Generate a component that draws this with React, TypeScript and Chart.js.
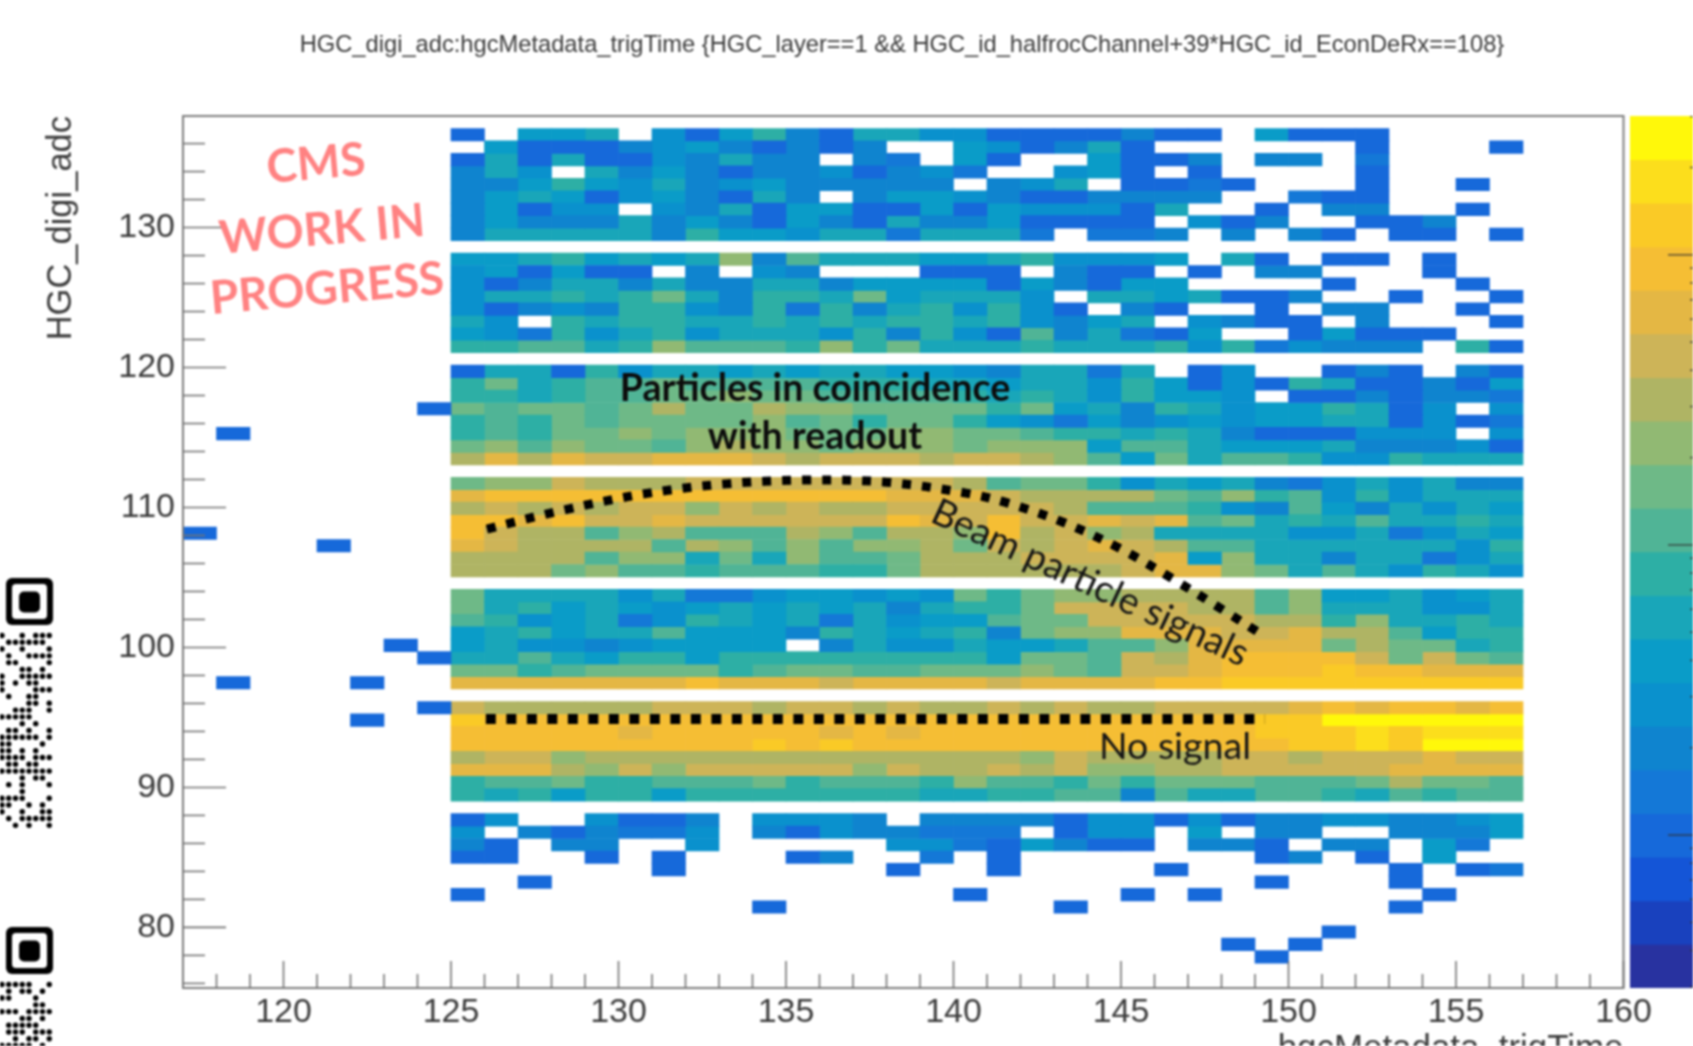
import React, { useEffect, useRef } from "react";
import { Chart, registerables } from "chart.js";

Chart.register(...registerables);

const chartTitle = "HGC_digi_adc:hgcMetadata_trigTime {HGC_layer==1 && HGC_id_halfrocChannel+39*HGC_id_EconDeRx==108}";
const xAxisTitle = "hgcMetadata_trigTime";
const yAxisTitle = "HGC_digi_adc";

const xMajorTicks = [120, 125, 130, 135, 140, 145, 150, 155, 160];
const yMajorTicks = [80, 90, 100, 110, 120, 130];
const xMinorTicks = [118, 119, 121, 122, 123, 124, 126, 127, 128, 129, 131, 132, 133, 134, 136, 137, 138, 139, 141, 142, 143, 144, 146, 147, 148, 149, 151, 152, 153, 154, 156, 157, 158, 159];
const yMinorTicks = [76, 78, 82, 84, 86, 88, 92, 94, 96, 98, 102, 104, 106, 108, 112, 114, 116, 118, 122, 124, 126, 128, 132, 134, 136];

// Colour levels (0 = empty bin, 1..20 = palette band), columns 125..156, rows listed top to bottom
const rows60to68 = [
  [4,0,8,8,9,0,7,4,8,10,6,4,9,9,7,7, 4,4,4,4,6,4,4,0,8,4,4,4,0,0,0,0],
  [0,8,4,4,4,6,7,8,6,4,6,4,6,0,0,8, 7,4,6,9,4,0,0,0,0,0,0,4,0,0,0,4],
  [4,9,4,9,4,4,7,6,9,6,6,0,6,5,0,8, 4,0,0,8,4,4,6,0,6,6,0,5,0,0,0,0],
  [6,9,7,0,9,6,8,6,4,6,6,7,4,6,7,5, 0,0,7,8,4,0,4,0,0,0,0,4,0,0,0,0],
  [6,6,8,10,8,7,9,6,7,8,6,6,6,6,6,0, 6,7,9,0,4,4,5,4,0,0,0,4,0,0,4,0],
  [6,8,9,8,4,7,8,6,4,9,6,0,6,8,8,7, 6,4,4,6,6,6,6,0,0,5,4,4,0,0,0,0],
  [6,8,4,7,7,0,7,6,9,4,8,8,4,4,8,4, 8,7,7,7,4,9,0,0,4,0,6,6,0,0,4,0],
  [6,8,6,6,6,9,6,8,6,4,8,6,4,9,6,6, 8,4,4,4,4,0,7,4,6,0,0,4,4,6,0,0],
  [6,9,9,9,9,9,6,10,8,8,7,9,9,5,9,9, 9,5,0,5,5,6,0,6,0,6,4,0,4,4,0,4],
];
const rows51to58 = [
  [8,8,9,10,8,9,8,9,13,6,11,9,9,9,8,8, 9,10,7,7,7,8,0,9,4,0,4,4,0,4,0,0],
  [7,8,4,8,4,4,0,6,0,7,6,0,0,0,4,4, 4,0,6,4,4,0,4,0,6,6,0,0,0,4,0,0],
  [7,4,6,9,9,6,9,6,6,9,9,6,8,8,8,8, 4,8,6,4,8,8,0,0,0,0,4,0,0,0,4,0],
  [7,9,9,10,9,10,12,9,6,10,10,9,12,8,9,9, 9,7,0,9,9,8,9,4,4,6,0,0,4,0,0,4],
  [7,4,6,7,6,10,10,7,6,10,5,10,6,9,10,7, 10,7,4,0,6,4,0,0,4,0,6,6,0,0,4,0],
  [9,7,0,10,9,10,10,9,9,10,9,10,9,10,10,9, 10,7,6,8,9,0,7,6,4,4,0,6,0,0,0,4],
  [8,7,5,10,7,9,10,7,9,9,9,7,10,6,10,7, 4,11,6,9,5,4,8,0,0,4,8,4,4,4,0,0],
  [10,10,11,11,9,10,13,11,11,11,10,13,10,12,9,9, 9,10,9,9,9,10,7,10,5,7,6,6,6,0,10,4],
];
const rows42to49 = [
  [4,9,9,4,10,7,9,9,8,9,8,9,9,8,8,7, 6,9,9,5,9,0,4,7,0,0,4,6,4,0,6,4],
  [10,12,9,10,11,11,12,11,11,11,11,10,10,10,9,9, 8,9,9,7,10,8,4,7,4,10,9,4,4,6,4,8],
  [10,10,9,10,11,11,12,12,13,12,12,11,11,11,11,10, 9,10,9,7,10,8,8,7,0,4,4,6,4,6,6,5],
  [12,11,12,12,11,12,14,12,12,14,13,13,12,12,12,12, 10,12,8,9,6,10,9,7,8,8,10,9,4,7,0,7],
  [10,11,10,12,11,12,12,12,12,13,11,12,10,12,12,10, 8,7,5,8,6,7,8,7,8,8,9,9,4,7,4,5],
  [10,11,10,12,12,13,12,13,13,13,12,12,12,13,13,12, 12,11,10,10,9,10,9,6,4,4,4,7,7,7,0,7],
  [12,13,11,13,12,12,11,13,14,13,13,12,13,13,13,12, 13,13,13,8,11,11,9,8,8,8,9,6,6,6,7,4],
  [14,16,14,16,15,15,16,16,16,15,14,15,15,15,14,15, 15,14,13,11,8,12,9,11,11,10,7,7,10,9,9,9],
];
const rows33to40 = [
  [12,13,13,15,14,14,14,15,15,15,15,15,15,15,15,14, 11,12,12,10,7,9,8,9,6,5,7,9,7,9,6,6],
  [16,17,17,17,17,17,17,17,17,17,17,17,17,16,16,16, 15,14,14,14,14,12,11,13,10,11,7,10,7,9,9,9],
  [14,15,14,15,14,15,15,13,15,14,15,14,14,15,15,15, 15,15,14,11,11,11,10,7,6,11,8,6,9,7,9,8],
  [17,17,16,17,15,15,16,15,15,15,15,15,15,17,16,15, 17,15,15,16,15,16,11,12,9,10,9,11,9,9,10,9],
  [17,15,14,14,11,13,14,11,11,11,14,13,11,14,14,13, 17,14,15,13,14,9,9,9,9,7,7,9,5,7,9,8],
  [16,15,14,14,14,14,11,14,13,11,13,11,13,13,14,12, 15,14,15,16,15,14,11,11,9,9,9,9,9,9,7,10],
  [14,14,14,14,11,13,13,9,12,9,13,11,11,12,14,14, 14,15,15,15,15,16,8,13,9,9,6,9,9,5,7,9],
  [14,14,14,12,13,11,11,10,11,11,11,10,10,12,14,14, 14,14,14,14,15,16,16,13,12,9,11,9,7,10,9,7],
];
const rows24to31 = [
  [12,9,9,9,9,7,9,5,5,7,8,8,7,8,7,12, 10,12,13,13,14,14,14,14,11,13,8,8,9,7,8,9],
  [12,9,10,8,9,8,7,8,9,8,9,8,9,6,9,10, 10,12,15,15,15,15,14,14,11,13,9,9,9,7,7,9],
  [11,10,7,8,9,5,7,10,9,8,9,5,9,7,8,8, 11,12,12,15,15,15,15,15,14,14,10,13,9,9,10,9],
  [8,9,10,8,9,9,11,8,8,8,6,10,9,8,9,10, 6,12,13,13,16,16,16,15,15,16,14,14,11,8,10,10],
  [8,9,7,7,6,7,8,8,8,8,0,6,9,7,7,9, 8,8,9,11,11,13,16,16,16,16,12,14,12,12,9,10],
  [9,9,11,9,8,10,10,8,10,10,10,10,10,10,10,10, 8,12,12,11,15,14,16,17,17,17,17,15,12,15,12,11],
  [12,12,10,11,12,12,12,12,10,11,12,12,11,11,12,12, 12,13,12,11,15,15,16,17,17,17,18,17,17,16,16,16],
  [16,16,16,16,16,16,16,17,16,16,16,15,16,16,16,16, 15,16,16,16,16,17,17,18,18,18,18,18,18,18,18,18],
];
const rows15to22 = [
  [15,14,14,14,14,14,15,15,15,14,15,15,14,15,14,14, 15,14,15,14,14,15,15,15,15,16,17,16,17,17,16,17],
  [18,17,17,17,17,17,17,17,17,17,17,17,17,17,17,17, 17,17,17,17,17,17,17,17,18,18,20,20,20,20,20,20],
  [17,17,17,17,17,16,17,17,17,17,17,16,17,16,17,17, 17,17,17,17,17,17,17,17,18,18,18,19,18,19,19,19],
  [17,17,17,17,17,17,17,17,17,18,17,18,17,17,17,17, 17,17,17,17,17,17,17,17,17,18,18,19,18,20,20,20],
  [14,15,15,13,14,14,14,14,14,14,14,14,14,14,14,14, 14,13,15,14,14,14,14,15,15,14,15,15,15,16,15,15],
  [16,16,16,14,13,15,13,15,15,15,15,15,13,15,14,14, 15,14,15,13,13,14,14,15,15,15,15,15,16,16,16,16],
  [10,11,11,12,10,10,11,11,11,12,10,11,11,11,10,13, 11,11,10,12,10,12,12,12,11,11,11,12,14,12,12,11],
  [10,9,10,8,10,10,8,10,10,10,10,10,10,10,9,9, 10,10,11,11,6,11,9,9,11,11,10,9,11,10,11,11],
];
const rows10to13 = [
  [4,7,0,0,7,4,4,6,0,7,7,7,6,0,6,6, 6,6,4,7,7,4,7,4,6,6,7,7,6,6,7,8],
  [7,0,6,4,6,5,5,7,0,6,4,7,6,6,5,5, 5,0,4,7,7,0,8,0,6,6,0,0,6,6,6,8],
  [6,4,0,6,6,0,0,7,0,0,0,0,0,7,7,5, 4,8,6,4,4,0,6,6,4,0,6,6,0,8,5,0],
  [4,4,0,0,4,0,4,0,0,0,4,6,0,0,5,0, 4,0,0,0,0,0,0,0,4,6,0,4,0,8,0,0],
];
const blockTopRows = [68, 58, 49, 40, 31, 22, 13];
const blocks = [rows60to68, rows51to58, rows42to49, rows33to40, rows24to31, rows15to22, rows10to13];
const firstColumn = 125;

// Isolated bins
const soloCols = [117,118,118,121,122,122,123,124,124,124,131,138,141,146,153,155,156,127,149,153,125,140,145,147,154,134,143,153,151,148,150,149];
const soloRows = [36,44,24,35,24,21,27,46,26,22,9,9,9,9,9,9,9,8,8,8,7,7,7,7,7,6,6,6,4,3,3,2];
const soloLevels = [4,4,4,4,4,4,4,4,4,4,4,4,4,4,4,4,5,4,4,4,4,4,4,4,4,4,4,4,4,4,4,4];

const yLow = 75.67;
const yBinWidth = 0.89;

const paletteRgb = [
  "rgb(40,50,160)", "rgb(25,65,190)", "rgb(20,85,215)", "rgb(22,105,218)", "rgb(20,120,215)",
  "rgb(15,132,207)", "rgb(10,145,205)", "rgb(10,156,200)", "rgb(25,166,185)", "rgb(45,175,165)",
  "rgb(80,180,150)", "rgb(110,185,135)", "rgb(145,185,115)", "rgb(175,180,100)", "rgb(205,180,88)",
  "rgb(228,183,68)", "rgb(245,190,52)", "rgb(250,202,38)", "rgb(252,222,28)", "rgb(255,248,10)",
];

// Annotation curves, in axis units
const beamX = [126.07,128.34,130.73,133.12,135.6,137.99,140.37,141.63,143.33,145.0,146.55,148.1,149.18];
const beamY = [108.46,109.81,110.96,111.67,111.96,111.81,111.03,110.31,108.89,107.03,104.89,102.6,100.96];
const noSignalX = [126.04, 149.3];
const noSignalY = [94.89, 94.89];

const zMajor = [1, 10, 100];
const zMinor = [0.3,0.4,0.5,0.6,0.7,0.8,0.9,2,3,4,5,6,7,8,9,20,30,40,50,60,70,80,90,200,300];

const qrRowsA = ["10010111","01111110","10010001","01001111","01100001","00011010","10011111","10101100","10000111","01001100","00001101","00111001","11111000","00010100","01101001","11111101","11000010","11010100","11110111","01101100","11111111","00010110","01010001","00010000","11110001","11001010","10010011","01011111","00101001"];
const qrRowsB = ["11111001","01011010","11000100","00000110","11101111","00011010","01111100","01110111","00101101","11111010"];

const canvasW = 1693;
const canvasH = 1046;
const fontSans = '"Liberation Sans"';
const fontCallout = 'Lato';

function roundRect(ctx: CanvasRenderingContext2D, x: number, y: number, w: number, h: number, r: number) {
  ctx.beginPath();
  ctx.roundRect(x, y, w, h, r);
  ctx.fill();
}

function drawQr(ctx: CanvasRenderingContext2D, top: number, dotRows: string[]) {
  ctx.fillStyle = "#000";
  roundRect(ctx, 6, top, 47, 47, 6);
  ctx.fillStyle = "#fff";
  roundRect(ctx, 12, top + 6, 35, 35, 4);
  ctx.fillStyle = "#000";
  roundRect(ctx, 19, top + 13.5, 21, 21, 5);
  dotRows.forEach((row, r) => {
    [...row].forEach((c, i) => {
      if (c !== "1") return;
      ctx.beginPath();
      ctx.arc(2 + i * 6.75, top + 57.5 + r * 6.78, 2.7, 0, Math.PI * 2);
      ctx.fill();
    });
  });
}

function drawLabel(ctx: CanvasRenderingContext2D, text: string, x: number, y: number, deg: number, font: string, color: string) {
  ctx.save();
  ctx.translate(x, y);
  ctx.rotate((deg * Math.PI) / 180);
  ctx.font = font;
  ctx.fillStyle = color;
  ctx.textAlign = "center";
  ctx.textBaseline = "middle";
  ctx.fillText(text, 0, 0);
  ctx.restore();
}

const frameAndNotes = {
  id: "frameAndNotes",
  afterDraw(chart: any) {
    const { ctx, chartArea: a, scales } = chart;
    ctx.save();
    ctx.strokeStyle = "rgb(125,125,125)";
    ctx.lineWidth = 2;
    ctx.strokeRect(a.left, a.top, a.right - a.left, a.bottom - a.top);
    const vtick = (v: number, len: number) => {
      const x = scales.x.getPixelForValue(v);
      ctx.beginPath();
      ctx.moveTo(x, a.bottom);
      ctx.lineTo(x, a.bottom - len);
      ctx.stroke();
    };
    const htick = (v: number, len: number) => {
      const y = scales.y.getPixelForValue(v);
      ctx.beginPath();
      ctx.moveTo(a.left, y);
      ctx.lineTo(a.left + len, y);
      ctx.stroke();
    };
    ctx.strokeStyle = "rgb(115,115,115)";
    ctx.lineWidth = 1.6;
    xMajorTicks.forEach((v) => vtick(v, 27));
    xMinorTicks.forEach((v) => vtick(v, 14));
    yMajorTicks.forEach((v) => htick(v, 43));
    yMinorTicks.forEach((v) => htick(v, 22));
    ctx.restore();

    drawLabel(ctx, chartTitle, 902, 45, 0, `23.7px ${fontSans}`, "#3a3a3a");
    const pink = "rgb(255,130,130)";
    const pinkFont = `bold 46px ${fontCallout}`;
    drawLabel(ctx, "CMS", 316, 164, -5, pinkFont, pink);
    drawLabel(ctx, "WORK IN", 322, 230, -5, pinkFont, pink);
    drawLabel(ctx, "PROGRESS", 327, 289, -5, pinkFont, pink);
    drawLabel(ctx, "Particles in coincidence", 815, 389, 0, `bold 37.5px ${fontCallout}`, "#0c0c0c");
    drawLabel(ctx, "with readout", 815, 437, 0, `bold 37.5px ${fontCallout}`, "#0c0c0c");
    drawLabel(ctx, "Beam particle signals", 1090, 583, 25, `37.5px ${fontCallout}`, "#151515");
    drawLabel(ctx, "No signal", 1175, 747, 0, `37.5px ${fontCallout}`, "#151515");

    drawQr(ctx, 578, qrRowsA);
    drawQr(ctx, 927, qrRowsB);
  },
};

const colorbarTicks = {
  id: "colorbarTicks",
  afterDraw(chart: any) {
    const { ctx, chartArea: a, scales } = chart;
    ctx.save();
    ctx.strokeStyle = "rgba(50,50,50,0.8)";
    ctx.lineWidth = 1.5;
    const t = (v: number, len: number) => {
      const y = scales.z.getPixelForValue(v);
      ctx.beginPath();
      ctx.moveTo(a.right, y);
      ctx.lineTo(a.right - len, y);
      ctx.stroke();
    };
    zMajor.forEach((v) => t(v, 25));
    zMinor.forEach((v) => t(v, 3));
    ctx.restore();
  },
};

function buildDatasets() {
  const byLevel: any[][] = paletteRgb.map(() => []);
  const edge = (r: number) => yLow + r * yBinWidth;
  const put = (col: number, row: number, level: number) => {
    if (level > 0) byLevel[level - 1].push({ x: col + 0.5, y: [edge(row), edge(row + 1)] });
  };
  blocks.forEach((block, b) => {
    block.forEach((rowValues, i) => {
      rowValues.forEach((level, c) => put(firstColumn + c, blockTopRows[b] - i, level));
    });
  });
  soloCols.forEach((c, i) => put(c, soloRows[i], soloLevels[i]));
  const bars = byLevel.map((data, i) => ({
    type: "bar",
    label: `level ${i + 1}`,
    data,
    backgroundColor: paletteRgb[i],
    grouped: false,
    categoryPercentage: 1,
    barPercentage: 1,
    borderWidth: 0,
    order: 2,
  }));
  const lineStyle = { type: "line", borderColor: "#000", pointRadius: 0, order: 1, fill: false };
  return [
    ...bars,
    {
      ...lineStyle,
      label: "Beam particle signals",
      data: beamX.map((x, i) => ({ x, y: beamY[i] })),
      borderWidth: 9,
      borderDash: [9, 11],
      tension: 0.35,
    },
    {
      ...lineStyle,
      label: "No signal",
      data: noSignalX.map((x, i) => ({ x, y: noSignalY[i] })),
      borderWidth: 10,
      borderDash: [10, 10.5],
    },
  ];
}

export default function App() {
  const mainRef = useRef<HTMLCanvasElement | null>(null);
  const barRef = useRef<HTMLCanvasElement | null>(null);

  useEffect(() => {
    document.body.style.margin = "0";
    const tickFont = { family: fontSans, size: 34 };
    const main = new Chart(mainRef.current as any, {
      type: "bar",
      data: { datasets: buildDatasets() as any },
      plugins: [frameAndNotes],
      options: {
        responsive: false,
        animation: false,
        layout: { padding: { top: 116, right: 69.5, left: 0, bottom: 0 } },
        plugins: { legend: { display: false }, tooltip: { enabled: false }, title: { display: false } },
        scales: {
          x: {
            type: "linear",
            offset: false,
            min: 117,
            max: 160,
            afterFit: (s: any) => { s.height = 58; },
            afterBuildTicks: (s: any) => { s.ticks = xMajorTicks.map((value) => ({ value })); },
            grid: { display: false, drawTicks: false, offset: false },
            border: { display: false },
            ticks: { font: tickFont, color: "#3a3a3a", padding: 4, maxRotation: 0, autoSkip: false, callback: (v: any) => String(v) },
            title: { display: true, text: xAxisTitle, align: "end", color: "#3a3a3a", font: { family: fontSans, size: 34.9 }, padding: { top: 0, bottom: -24 } },
          },
          y: {
            type: "linear",
            min: yLow,
            max: yLow + 70 * yBinWidth,
            afterFit: (s: any) => { s.width = 183; },
            afterBuildTicks: (s: any) => { s.ticks = yMajorTicks.map((value) => ({ value })); },
            grid: { display: false, drawTicks: false },
            border: { display: false },
            ticks: { font: tickFont, color: "#3a3a3a", padding: 8, autoSkip: false, callback: (v: any) => String(v) },
            title: { display: true, text: yAxisTitle, align: "end", color: "#3a3a3a", font: { family: fontSans, size: 34.5 }, padding: { top: 41, bottom: 0 } },
          },
        },
      } as any,
    });
    const bandLabels = paletteRgb.map((_, i) => String(i + 1));
    const bar = new Chart(barRef.current as any, {
      type: "bar",
      data: {
        labels: bandLabels,
        datasets: [{ data: paletteRgb.map(() => 1), backgroundColor: paletteRgb, categoryPercentage: 1, barPercentage: 1, borderWidth: 0 }],
      },
      plugins: [colorbarTicks],
      options: {
        indexAxis: "y",
        responsive: false,
        animation: false,
        plugins: { legend: { display: false }, tooltip: { enabled: false } },
        scales: {
          x: { display: false, min: 0, max: 1 },
          y: { display: false, reverse: true },
          z: { type: "logarithmic", axis: "y", display: false, min: 0.297, max: 301 },
        },
      } as any,
    });
    return () => {
      main.destroy();
      bar.destroy();
    };
  }, []);

  return (
    <div style={{ position: "relative", width: canvasW, height: canvasH, overflow: "hidden", background: "#fff", filter: "blur(0.9px)" }}>
      <canvas ref={mainRef} width={canvasW} height={canvasH} style={{ position: "absolute", left: 0, top: 0, display: "block" }} />
      <canvas ref={barRef} width={63} height={872} style={{ position: "absolute", left: 1630, top: 116, display: "block" }} />
    </div>
  );
}
